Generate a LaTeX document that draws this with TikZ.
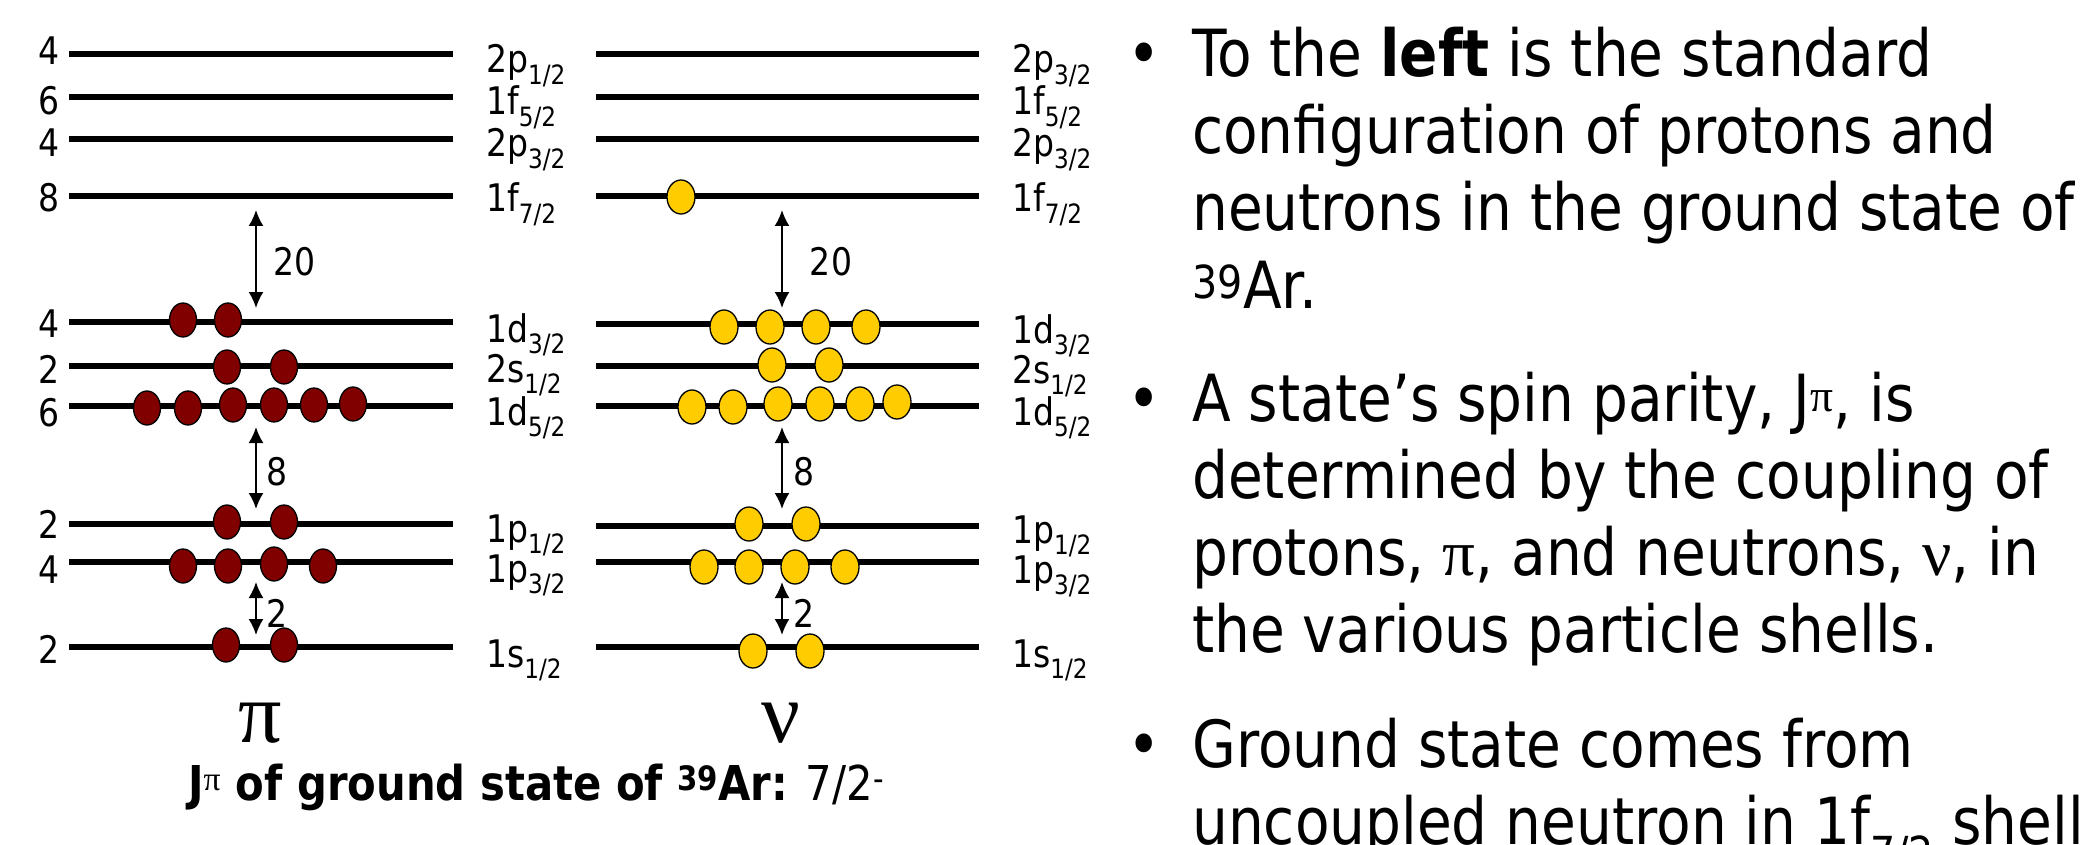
\documentclass[tikz,border=0pt]{standalone}
\usepackage{fontspec}
\setmainfont{DejaVu Sans}[FakeStretch=0.87]
\newfontfamily\grk{Liberation Serif}
\usetikzlibrary{arrows.meta,shapes.geometric}
\definecolor{pro}{RGB}{128,0,0}
\definecolor{neu}{RGB}{255,204,0}
\tikzset{
  lvl/.style={line width=5.5pt},
  arr/.style={line width=2pt,{Latex[length=16pt,width=15pt]}-{Latex[length=16pt,width=15pt]}},
  num/.style={font=\fontsize{38}{40}\selectfont,inner sep=0pt,anchor=base},
  lab/.style={font=\fontsize{38}{40}\selectfont,inner sep=0pt,anchor=base west},
  pel/.style={ellipse,draw=black,line width=1.3pt,fill=pro,minimum width=27pt,minimum height=34pt,inner sep=0pt},
  nel/.style={ellipse,draw=black,line width=1.3pt,fill=neu,minimum width=28pt,minimum height=34pt,inner sep=0pt},
  big/.style={font=\grk\fontsize{86}{90}\selectfont,inner sep=0pt,anchor=base},
  rt/.style={font=\fontsize{65}{77}\selectfont,inner sep=0pt,anchor=base west},
  bul/.style={font=\fontsize{65}{77}\selectfont,inner sep=0pt,anchor=base},
}
% proton level: name, y, number, number baseline, label, subscript, label baseline
\newcommand\plevel[7]{%
  \coordinate (#1L) at (69,#2); \coordinate (#1R) at (453,#2);
  \draw[lvl] (#1L) -- (#1R);
  \node[num] (#1n) at (49,#4) {#3};
  \node[lab] (#1t) at (486,#7) {#5\textsubscript{#6}};}
% neutron level: name, y, label, subscript, label baseline
\newcommand\nlevel[5]{%
  \coordinate (#1L) at (596,#2); \coordinate (#1R) at (979,#2);
  \draw[lvl] (#1L) -- (#1R);
  \node[lab] (#1t) at (1012,#5) {#3\textsubscript{#4}};}
\begin{document}
\begin{tikzpicture}[x=1pt,y=-1pt]
\useasboundingbox (0,0) rectangle (2083,845);
\clip (0,0) rectangle (2083,845);
\fill[white] (0,0) rectangle (2083,845);
% ---------------- proton levels
\plevel{pa}{54}{4}{65}{2p}{1/2}{73}
\plevel{pb}{97}{6}{115}{1f}{5/2}{115}
\plevel{pc}{139}{4}{157}{2p}{3/2}{157}
\plevel{pd}{196}{8}{212}{1f}{7/2}{212}
\plevel{pe}{322}{4}{337}{1d}{3/2}{342}
\plevel{pf}{366}{2}{383}{2s}{1/2}{382}
\plevel{pg}{406}{6}{426}{1d}{5/2}{425}
\plevel{ph}{524}{2}{538}{1p}{1/2}{542}
\plevel{pi}{562}{4}{583}{1p}{3/2}{582}
\plevel{pj}{647}{2}{663}{1s}{1/2}{667}
% ---------------- neutron levels
\nlevel{na}{54}{2p}{3/2}{73}
\nlevel{nb}{97}{1f}{5/2}{115}
\nlevel{nc}{139}{2p}{3/2}{157}
\nlevel{nd}{196}{1f}{7/2}{212}
\nlevel{ne}{324}{1d}{3/2}{343}
\nlevel{nf}{366}{2s}{1/2}{383}
\nlevel{ng}{406}{1d}{5/2}{425}
\nlevel{nh}{526}{1p}{1/2}{543}
\nlevel{ni}{562}{1p}{3/2}{583}
\nlevel{nj}{647}{1s}{1/2}{667}
% ---------------- gap arrows
\coordinate (pA1) at (256,210); \coordinate (pA2) at (256,308);
\coordinate (pB1) at (256,427); \coordinate (pB2) at (256,509);
\coordinate (pC1) at (256,582); \coordinate (pC2) at (256,635);
\draw[arr] (pA1) -- (pA2);
\draw[arr] (pB1) -- (pB2);
\draw[arr] (pC1) -- (pC2);
\node[num] (pAl) at (295,275) {20};
\node[num] (pBl) at (277,485) {8};
\node[num] (pCl) at (277,627) {2};
\coordinate (nA1) at (782,210); \coordinate (nA2) at (782,308);
\coordinate (nB1) at (782,427); \coordinate (nB2) at (782,509);
\coordinate (nC1) at (782,582); \coordinate (nC2) at (782,635);
\draw[arr] (nA1) -- (nA2);
\draw[arr] (nB1) -- (nB2);
\draw[arr] (nC1) -- (nC2);
\node[num] (nAl) at (831,275) {20};
\node[num] (nBl) at (804,485) {8};
\node[num] (nCl) at (804,627) {2};
% ---------------- protons
\node[pel] (pe1) at (183,320) {};
\node[pel] (pe2) at (228,320) {};
\node[pel] (pf1) at (227,367) {};
\node[pel] (pf2) at (284,367) {};
\node[pel] (pg1) at (147,408) {};
\node[pel] (pg2) at (188,408) {};
\node[pel] (pg3) at (233,405) {};
\node[pel] (pg4) at (274,405) {};
\node[pel] (pg5) at (314,405) {};
\node[pel] (pg6) at (353,404) {};
\node[pel] (ph1) at (227,522) {};
\node[pel] (ph2) at (284,522) {};
\node[pel] (pi1) at (183,566) {};
\node[pel] (pi2) at (228,566) {};
\node[pel] (pi3) at (274,564) {};
\node[pel] (pi4) at (323,566) {};
\node[pel] (pj1) at (226,645) {};
\node[pel] (pj2) at (284,645) {};
% ---------------- neutrons
\node[nel] (nd1) at (681,197) {};
\node[nel] (ne1) at (724,327) {};
\node[nel] (ne2) at (770,327) {};
\node[nel] (ne3) at (816,327) {};
\node[nel] (ne4) at (866,327) {};
\node[nel] (nf1) at (772,365) {};
\node[nel] (nf2) at (829,365) {};
\node[nel] (ng1) at (692,407) {};
\node[nel] (ng2) at (733,407) {};
\node[nel] (ng3) at (778,404) {};
\node[nel] (ng4) at (820,404) {};
\node[nel] (ng5) at (860,404) {};
\node[nel] (ng6) at (897,402) {};
\node[nel] (nh1) at (749,524) {};
\node[nel] (nh2) at (806,524) {};
\node[nel] (ni1) at (704,567) {};
\node[nel] (ni2) at (749,567) {};
\node[nel] (ni3) at (795,567) {};
\node[nel] (ni4) at (845,567) {};
\node[nel] (nj1) at (753,651) {};
\node[nel] (nj2) at (810,651) {};
% ---------------- bottom labels
\node[big] (piL) at (260,742) {π};
\node[big] (nuL) at (781,742) {ν};
\node[inner sep=0pt,anchor=base west,font=\fontsize{48}{52}\selectfont] (gs) at (188,800)
  {\textbf{J\textsuperscript{\grk\mdseries π} of ground state of \textsuperscript{39}Ar:} 7/2\textsuperscript{-}};
% ---------------- right text
\node[bul] (b1) at (1144,77) {•};
\node[rt] (t1) at (1192,77) {To the \textbf{left} is the standard};
\node[rt] (t2) at (1192,154) {configuration of protons and};
\node[rt] (t3) at (1192,231) {neutrons in the ground state of};
\node[rt] (t4) at (1192,308) {\textsuperscript{39}Ar.};
\node[bul] (b2) at (1144,421) {•};
\node[rt] (t5) at (1192,421) {A state’s spin parity, J\textsuperscript{\grk π}, is};
\node[rt] (t6) at (1192,498) {determined by the coupling of};
\node[rt] (t7) at (1192,575) {protons, {\grk π}, and neutrons, {\grk ν}, in};
\node[rt] (t8) at (1192,652) {the various particle shells.};
\node[bul] (b3) at (1144,767) {•};
\node[rt] (t9) at (1192,767) {Ground state comes from};
\node[rt] (t10) at (1192,844) {uncoupled neutron in 1f\textsubscript{7/2} shell};
\end{tikzpicture}
\end{document}
